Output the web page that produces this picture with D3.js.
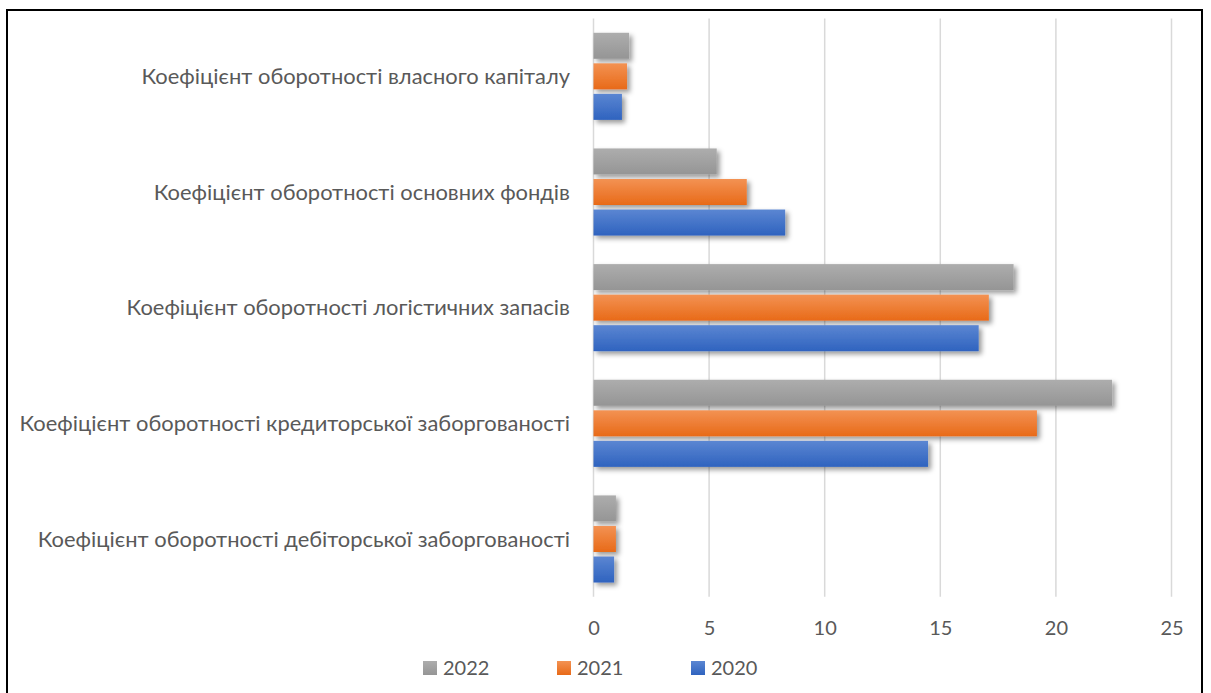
<!DOCTYPE html>
<html>
<head>
<meta charset="utf-8">
<script src="https://cdn.jsdelivr.net/npm/d3@7"></script>
<style>
  body { margin: 0; background: #fff; }
  text { font-family: Lato, "Open Sans", sans-serif; fill: #595959; }
</style>
</head>
<body>
<div id="chart"></div>
<script>
// categories top to bottom
const categories = [
  "Коефіцієнт оборотності власного капіталу",
  "Коефіцієнт оборотності основних фондів",
  "Коефіцієнт оборотності логістичних запасів",
  "Коефіцієнт оборотності кредиторської заборгованості",
  "Коефіцієнт оборотності дебіторської заборгованості"
];
const seriesNames = ["2022", "2021", "2020"];
const values2022 = [1.54, 5.33, 18.17, 22.43, 0.97];
const values2021 = [1.45, 6.63, 17.1, 19.18, 0.97];
const values2020 = [1.23, 8.29, 16.66, 14.47, 0.89];
const xTicks = [0, 5, 10, 15, 20, 25];

const seriesValues = { "2022": values2022, "2021": values2021, "2020": values2020 };
const colors = {
  "2022": ["#adadad", "#959595"],
  "2021": ["#f39253", "#e86a18"],
  "2020": ["#5b86d2", "#2f63bf"]
};

let w = 1211, h = 693,
    margin = ({ top: 18.5, right: 40, bottom: 96, left: 593.5 });

const svg = d3.select("#chart")
  .append("svg")
  .attr("width", w)
  .attr("height", h)
  .attr("viewBox", [0, 0, w, h]);

const defs = svg.append("defs");
seriesNames.forEach(s => {
  const g = defs.append("linearGradient")
    .attr("id", "grad" + s)
    .attr("x1", 0).attr("y1", 0).attr("x2", 0).attr("y2", 1);
  g.append("stop").attr("offset", "0%").attr("stop-color", colors[s][0]);
  g.append("stop").attr("offset", "100%").attr("stop-color", colors[s][1]);
});
defs.append("filter")
  .attr("id", "shadow")
  .attr("x", "-10%").attr("y", "-30%").attr("width", "130%").attr("height", "190%")
  .append("feDropShadow")
  .attr("dx", 3).attr("dy", 3).attr("stdDeviation", 2.5)
  .attr("flood-color", "#000").attr("flood-opacity", 0.4);

// outer frame
svg.append("rect")
  .attr("x", 7).attr("y", 10)
  .attr("width", 1195).attr("height", 700)
  .attr("fill", "none")
  .attr("stroke", "#000")
  .attr("stroke-width", 2);

let x = d3.scaleLinear()
  .domain([0, 25])
  .range([margin.left, 1171.5]);

let y0 = d3.scaleBand()
  .domain(categories)
  .range([margin.top, 596.8])
  .paddingInner(0.247)
  .paddingOuter(0.1235);

let y1 = d3.scaleBand()
  .domain(seriesNames)
  .range([0, y0.bandwidth()])
  .paddingInner(0.148);

// gridlines
svg.append("g")
  .selectAll("line")
  .data(xTicks)
  .join("line")
  .attr("x1", d => x(d)).attr("x2", d => x(d))
  .attr("y1", margin.top).attr("y2", 596.8)
  .attr("stroke", "#d9d9d9")
  .attr("stroke-width", 1.5);

// x axis labels
svg.append("g")
  .attr("transform", `translate(0,${628})`)
  .call(d3.axisBottom(x).tickValues(xTicks).tickSize(0).tickPadding(0))
  .call(g => g.select(".domain").remove())
  .selectAll("text")
  .attr("dy", "0.35em")
  .attr("font-size", 20)
  .attr("font-family", "Lato, sans-serif")
  .attr("fill", "#595959");

// category labels
svg.append("g")
  .selectAll("text")
  .data(categories)
  .join("text")
  .attr("x", 570)
  .attr("y", d => y0(d) + y0.bandwidth() / 2)
  .attr("dy", "0.35em")
  .attr("text-anchor", "end")
  .attr("font-size", 21.9)
  .text(d => d);

// bars
seriesNames.forEach(s => {
  svg.append("g")
    .attr("filter", "url(#shadow)")
    .selectAll("rect")
    .data(categories.map((c, i) => ({ c, v: seriesValues[s][i] })))
    .join("rect")
    .attr("x", x(0))
    .attr("y", d => y0(d.c) + y1(s))
    .attr("width", d => x(d.v) - x(0))
    .attr("height", y1.bandwidth())
    .attr("fill", `url(#grad${s})`);
});

// legend
const legend = svg.append("g")
  .selectAll("g")
  .data(seriesNames)
  .join("g")
  .attr("transform", (d, i) => `translate(${423 + i * 134},661)`);
legend.append("rect")
  .attr("width", 14).attr("height", 14)
  .attr("fill", d => `url(#grad${d})`);
legend.append("text")
  .attr("x", 20).attr("y", 7)
  .attr("dy", "0.35em")
  .attr("font-size", 20)
  .text(d => d);
</script>
</body>
</html>
